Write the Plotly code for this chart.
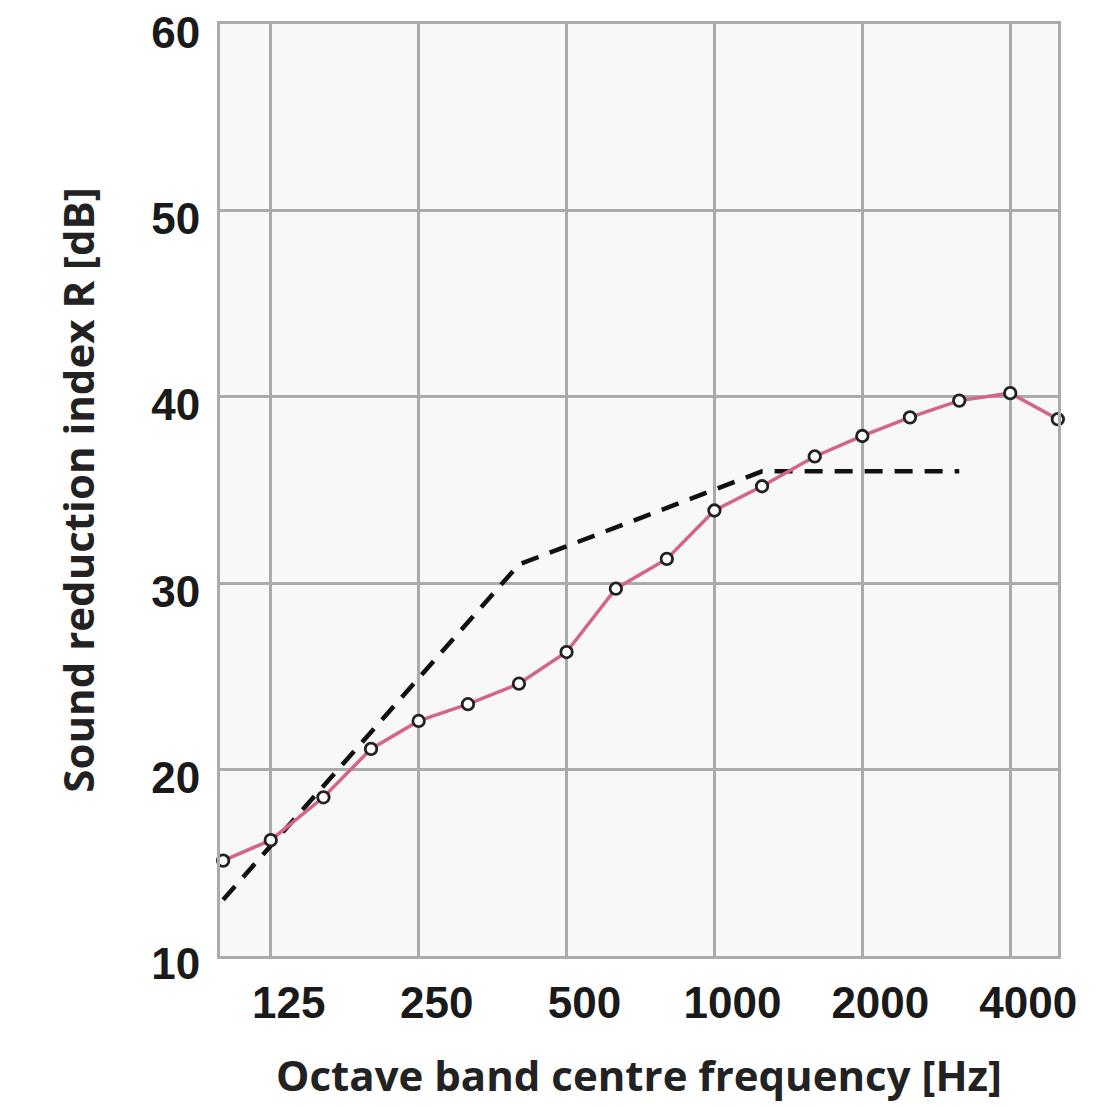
import plotly.graph_objects as go

# Third-octave band centre frequencies [Hz]
freq = [100, 125, 160, 200, 250, 315, 400, 500, 630, 800, 1000, 1250,
        1600, 2000, 2500, 3150, 4000, 5000]
# Measured sound reduction index R [dB]
r_measured = [15.1, 16.2, 18.5, 21.1, 22.6, 23.5, 24.6, 26.3, 29.7, 31.3,
              33.9, 35.2, 36.8, 37.9, 38.9, 39.8, 40.2, 38.8]
# Shifted reference curve [dB]
ref_freq = [100, 400, 1250, 3150]
ref_values = [13, 31, 36, 36]

x_tickvals = [125, 250, 500, 1000, 2000, 4000]
x_ticktext = ["125", "250", "500", "1000", "2000", "4000"]
y_tickvals = [10, 20, 30, 40, 50, 60]

fig = go.Figure()
fig.add_trace(go.Scatter(
    x=ref_freq, y=ref_values, mode="lines",
    line=dict(color="#111111", width=4.5, dash="18px,12px"),
    showlegend=False, cliponaxis=False,
))
fig.add_trace(go.Scatter(
    x=freq, y=r_measured, mode="lines+markers",
    line=dict(color="#d4648a", width=3.5),
    marker=dict(symbol="circle", size=11.5, color="white",
                line=dict(color="#222222", width=2.8)),
    showlegend=False, cliponaxis=False,
))

grid = "#ababab"
fig.update_layout(
    width=1105, height=1099,
    margin=dict(l=212, r=55, t=16, b=151),
    paper_bgcolor="white", plot_bgcolor="#f8f8f8",
    font=dict(family="Liberation Sans", color="#1a1a1a"),
    xaxis=dict(
        type="log", range=[1.9936, 3.6993], automargin=False,
        tickvals=x_tickvals, ticktext=x_ticktext,
        tickfont=dict(family="Liberation Sans", size=44, color="#1a1a1a", weight="bold"),
        ticklabelshift=18, ticklabelstandoff=6, ticklabeloverflow="allow",
        showgrid=True, gridcolor=grid, gridwidth=3,
        showline=True, linecolor=grid, linewidth=3, mirror=True,
        zeroline=False, ticks="",
        title=dict(text="Octave band centre frequency [Hz]", standoff=36,
                   font=dict(family="Open Sans", size=42, color="#222222", weight="bold")),
    ),
    yaxis=dict(
        range=[9.98, 60.02], tickvals=y_tickvals, automargin=False,
        tickfont=dict(family="Liberation Sans", size=44, color="#1a1a1a", weight="bold"),
        ticklabelstandoff=8, ticklabelshift=8, ticklabeloverflow="allow",
        showgrid=True, gridcolor=grid, gridwidth=3,
        showline=True, linecolor=grid, linewidth=3, mirror=True,
        zeroline=False, ticks="",
        title=dict(text="Sound reduction index R [dB]", standoff=44,
                   font=dict(family="Open Sans", size=42, color="#222222", weight="bold")),
    ),
)

fig.write_html("out.html")
